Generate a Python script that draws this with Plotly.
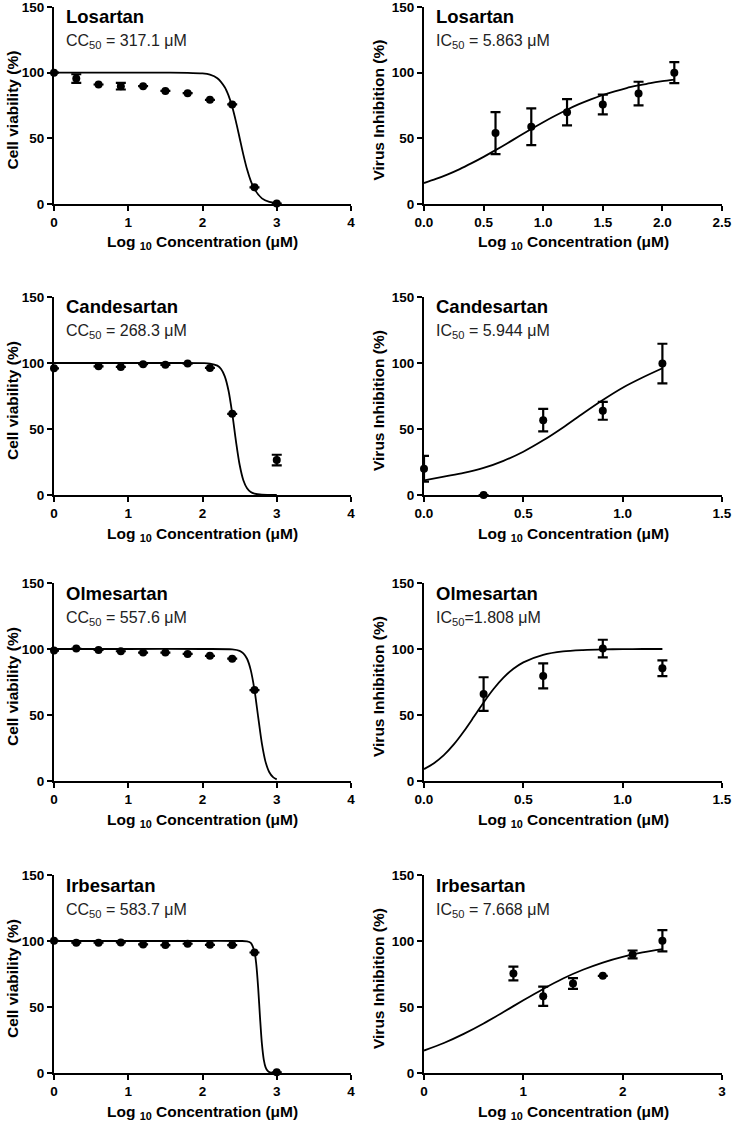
import plotly.graph_objects as go

# ---------------- data ----------------
conc_left = [0, 0.3, 0.6, 0.9, 1.2, 1.5, 1.8, 2.1, 2.4, 2.7, 3.0]

# Losartan - cell viability
los_cc_x = conc_left
los_cc_y = [100, 95.5, 91, 89.7, 89.7, 86.1, 84.4, 79.3, 75.8, 12.7, 0.3]
los_cc_err = [0, 3.3, 0, 2.5, 0, 0, 0, 0, 0, 0, 0]
los_cc_fit_x = [0, 0.5, 1.0, 1.5, 1.8, 2.0, 2.1, 2.2, 2.3, 2.35, 2.4, 2.45, 2.5, 2.55, 2.6, 2.65, 2.7, 2.8, 2.9, 3.0]
los_cc_fit_y = [100, 100, 100, 100, 99.9, 99.4, 98.5, 95.8, 88.9, 82.7, 74.0, 62.9, 50.3, 37.6, 26.4, 17.6, 11.3, 4.3, 1.6, 0.6]

# Losartan - virus inhibition
los_ic_x = [0.6, 0.9, 1.2, 1.5, 1.8, 2.1]
los_ic_y = [54, 58.8, 69.9, 75.8, 84.1, 100]
los_ic_err = [16, 14, 10, 7.5, 9, 8]
los_ic_fit_x = [0, 0.1, 0.2, 0.3, 0.4, 0.5, 0.6, 0.7, 0.8, 0.9, 1.0, 1.1, 1.2, 1.3, 1.4, 1.5, 1.6, 1.7, 1.8, 1.9, 2.0, 2.1]
los_ic_fit_y = [15.95, 19.06, 22.6, 26.6, 31.1, 35.9, 41.0, 46.3, 51.7, 57.1, 62.3, 67.2, 71.8, 76.0, 79.7, 83.0, 85.8, 88.3, 90.3, 92.1, 93.5, 94.7]

# Candesartan - cell viability
can_cc_x = [0, 0.6, 0.9, 1.2, 1.5, 1.8, 2.1, 2.4, 3.0]
can_cc_y = [96.0, 97.5, 97.0, 99.1, 98.6, 99.6, 96.3, 61.5, 26.5]
can_cc_err = [0, 0, 0, 0, 0, 0, 0, 0, 4]
can_cc_fit_x = [0, 1.0, 1.5, 2.0, 2.1, 2.2, 2.25, 2.3, 2.35, 2.4, 2.45, 2.5, 2.55, 2.6, 2.65, 2.7, 2.8, 3.0]
can_cc_fit_y = [100, 100, 100, 99.9, 99.6, 98.0, 95.5, 89.9, 79.2, 62.0, 41.0, 22.9, 11.2, 5.1, 2.2, 1.0, 0.2, 0]

# Candesartan - virus inhibition
can_ic_x = [0, 0.3, 0.6, 0.9, 1.2]
can_ic_y = [19.9, 0, 56.7, 63.8, 99.6]
can_ic_err = [9.7, 0, 8.5, 6.8, 15]
can_ic_fit_x = [0, 0.1, 0.2, 0.3, 0.4, 0.5, 0.6, 0.7, 0.8, 0.9, 1.0, 1.1, 1.2]
can_ic_fit_y = [11.0, 13.9, 16.7, 20.5, 25.9, 32.8, 41.4, 51.2, 61.8, 72.0, 81.3, 89.0, 96.0]

# Olmesartan - cell viability
olm_cc_x = [0, 0.3, 0.6, 0.9, 1.2, 1.5, 1.8, 2.1, 2.4, 2.7]
olm_cc_y = [98.8, 100.3, 99.3, 98.3, 97.3, 97.3, 96.3, 94.8, 92.7, 68.9]
olm_cc_err = [0, 0, 0, 0, 0, 0, 0, 0, 0, 0]
olm_cc_fit_x = [0, 1.0, 2.0, 2.4, 2.5, 2.55, 2.6, 2.65, 2.7, 2.75, 2.8, 2.85, 2.9, 2.95, 3.0]
olm_cc_fit_y = [100, 100, 100, 99.7, 98.6, 96.7, 92.6, 84.0, 69.0, 48.4, 28.3, 14.3, 6.6, 2.9, 1.2]

# Olmesartan - virus inhibition
olm_ic_x = [0.3, 0.6, 0.9, 1.2]
olm_ic_y = [65.9, 79.6, 100.3, 85.4]
olm_ic_err = [12.7, 9.5, 6.7, 6]
olm_ic_fit_x = [0, 0.05, 0.1, 0.15, 0.2, 0.25, 0.3, 0.35, 0.4, 0.45, 0.5, 0.6, 0.7, 0.8, 0.9, 1.0, 1.1, 1.2]
olm_ic_fit_y = [9.0, 13.5, 19.6, 27.7, 37.5, 48.4, 59.5, 69.7, 78.3, 85.0, 89.9, 95.6, 98.2, 99.2, 99.7, 99.9, 100, 100]

# Irbesartan - cell viability
irb_cc_x = conc_left
irb_cc_y = [100.2, 98.7, 98.7, 98.9, 97.4, 96.9, 97.9, 97.1, 96.9, 91.3, 0.5]
irb_cc_err = [0, 0, 0, 0, 0, 0, 0, 0, 0, 0, 0]
irb_cc_fit_x = [0, 1.0, 2.0, 2.5, 2.6, 2.65, 2.7, 2.725, 2.75, 2.775, 2.8, 2.825, 2.85, 2.875, 2.9, 2.95, 3.0]
irb_cc_fit_y = [100, 100, 100, 100, 99.8, 98.6, 91.9, 81.9, 64.3, 41.8, 22.2, 10.2, 4.3, 1.8, 0.7, 0.1, 0]

# Irbesartan - virus inhibition
irb_ic_x = [0.9, 1.2, 1.5, 1.8, 2.1, 2.4]
irb_ic_y = [75.4, 58.2, 67.8, 73.6, 89.8, 100.2]
irb_ic_err = [5.2, 7.3, 4, 0, 3, 8]
irb_ic_fit_x = [0, 0.2, 0.4, 0.6, 0.8, 1.0, 1.2, 1.4, 1.6, 1.8, 2.0, 2.2, 2.4]
irb_ic_fit_y = [17.0, 22.7, 29.6, 37.5, 46.2, 55.1, 63.7, 71.6, 78.2, 83.7, 88.0, 91.3, 93.8]

drug_names = ["Losartan", "Candesartan", "Olmesartan", "Irbesartan"]
cc_labels = ["CC<sub>50</sub> = 317.1 μM", "CC<sub>50</sub> = 268.3 μM",
             "CC<sub>50</sub> = 557.6 μM", "CC<sub>50</sub> = 583.7 μM"]
ic_labels = ["IC<sub>50</sub> = 5.863 μM", "IC<sub>50</sub> = 5.944 μM",
             "IC<sub>50</sub>=1.808 μM", "IC<sub>50</sub> = 7.668 μM"]

y_ticks = [0, 50, 100, 150]
left_x_ticks = [0, 1, 2, 3, 4]
right_x_ticks = [
    [0.0, 0.5, 1.0, 1.5, 2.0, 2.5],
    [0.0, 0.5, 1.0, 1.5],
    [0.0, 0.5, 1.0, 1.5],
    [0, 1, 2, 3],
]
right_x_ticktext = [
    ["0.0", "0.5", "1.0", "1.5", "2.0", "2.5"],
    ["0.0", "0.5", "1.0", "1.5"],
    ["0.0", "0.5", "1.0", "1.5"],
    ["0", "1", "2", "3"],
]

panels_left = [
    (los_cc_x, los_cc_y, los_cc_err, los_cc_fit_x, los_cc_fit_y),
    (can_cc_x, can_cc_y, can_cc_err, can_cc_fit_x, can_cc_fit_y),
    (olm_cc_x, olm_cc_y, olm_cc_err, olm_cc_fit_x, olm_cc_fit_y),
    (irb_cc_x, irb_cc_y, irb_cc_err, irb_cc_fit_x, irb_cc_fit_y),
]
panels_right = [
    (los_ic_x, los_ic_y, los_ic_err, los_ic_fit_x, los_ic_fit_y),
    (can_ic_x, can_ic_y, can_ic_err, can_ic_fit_x, can_ic_fit_y),
    (olm_ic_x, olm_ic_y, olm_ic_err, olm_ic_fit_x, olm_ic_fit_y),
    (irb_ic_x, irb_ic_y, irb_ic_err, irb_ic_fit_x, irb_ic_fit_y),
]

# ---------------- layout geometry ----------------
W, H = 733, 1124
col_px = [(54, 351), (424, 722)]
row_px = [(7, 204), (297, 495), (583, 781), (875, 1073)]
ytitle_px = [12, 378]

FONT = "Liberation Sans"
fig = go.Figure()
layout = dict(
    width=W, height=H, margin=dict(l=0, r=0, t=0, b=0),
    paper_bgcolor="white", plot_bgcolor="white", showlegend=False,
    annotations=[],
)

def axis_common():
    return dict(
        showline=True, linecolor="black", linewidth=2,
        ticks="outside", ticklen=5, tickwidth=2, tickcolor="black",
        showgrid=False, zeroline=False, fixedrange=True, automargin=False,
        ticklabeloverflow="allow",
        tickfont=dict(family=FONT, size=13.5, color="black", weight="bold"),
    )

idx = 0
for r in range(4):
    for c in range(2):
        idx += 1
        xa = "x" if idx == 1 else f"x{idx}"
        ya = "y" if idx == 1 else f"y{idx}"
        xkey = "xaxis" if idx == 1 else f"xaxis{idx}"
        ykey = "yaxis" if idx == 1 else f"yaxis{idx}"
        x0, x1 = col_px[c]
        t, b = row_px[r]
        if c == 0:
            px, py, pe, fx, fy = panels_left[r]
            xr = [0, 4]
            tv, tt = left_x_ticks, [str(v) for v in left_x_ticks]
            ytitle = "Cell viability (%)"
            label = cc_labels[r]
        else:
            px, py, pe, fx, fy = panels_right[r]
            tv, tt = right_x_ticks[r], right_x_ticktext[r]
            xr = [tv[0], tv[-1]]
            ytitle = "Virus Inhibition (%)"
            label = ic_labels[r]

        xd = axis_common()
        xd.update(domain=[x0 / W, x1 / W], range=xr, anchor=ya,
                  tickvals=tv, ticktext=tt)
        yd = axis_common()
        yd.update(domain=[1 - b / H, 1 - t / H], range=[0, 150], anchor=xa,
                  tickvals=y_ticks, ticktext=[str(v) for v in y_ticks])
        layout[xkey] = xd
        layout[ykey] = yd

        # fitted curve
        fig.add_trace(go.Scatter(
            x=fx, y=fy, mode="lines", xaxis=xa, yaxis=ya,
            line=dict(color="black", width=1.8, shape="spline", smoothing=0.8),
            hoverinfo="skip", cliponaxis=False))
        # data points
        fig.add_trace(go.Scatter(
            x=px, y=py, mode="markers", xaxis=xa, yaxis=ya,
            marker=dict(color="black", size=8, symbol="circle"),
            error_y=dict(type="data", array=pe, visible=True,
                         color="black", thickness=2.2, width=5),
            cliponaxis=False))

        # drug name and CC50/IC50 labels
        layout["annotations"].append(dict(
            text=f"<b>{drug_names[r]}</b>", xref=f"{xa} domain", yref=f"{ya} domain",
            x=10 / (x1 - x0), y=1 - 10 / (b - t), xanchor="left", yanchor="middle",
            showarrow=False, font=dict(family=FONT, size=18.5, color="black")))
        layout["annotations"].append(dict(
            text=label, xref=f"{xa} domain", yref=f"{ya} domain",
            x=10 / (x1 - x0), y=1 - 35 / (b - t), xanchor="left", yanchor="middle",
            showarrow=False, font=dict(family=FONT, size=16, color="#222222")))
        # y-axis title
        layout["annotations"].append(dict(
            text=f"<b>{ytitle}</b>", xref="paper", yref=f"{ya} domain",
            x=ytitle_px[c] / W, y=0.5, yshift=-5, xanchor="center", yanchor="middle",
            textangle=-90, showarrow=False,
            font=dict(family=FONT, size=15.5, color="black")))
        # x-axis title
        layout["annotations"].append(dict(
            text="<b>Log <sub>10</sub> Concentration (μM)</b>",
            xref=f"{xa} domain", yref=f"{ya} domain",
            x=0.5, y=0, yshift=-39, xanchor="center", yanchor="middle",
            showarrow=False, font=dict(family=FONT, size=15.5, color="black")))

fig.update_layout(**layout)
fig.write_html(
    "out.html",
    config={"displayModeBar": False},
    post_script="document.body.style.margin='0';document.body.style.padding='0';"
                "document.documentElement.style.overflow='hidden';",
)
